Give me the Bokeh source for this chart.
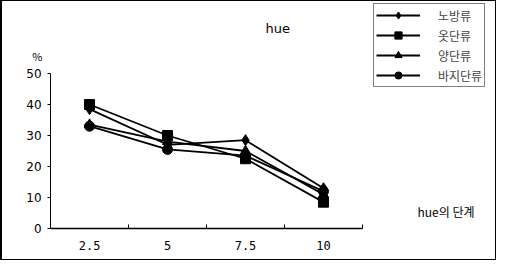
from bokeh.plotting import figure
from bokeh.models import (FixedTicker, Legend, LegendItem, Label, Range1d)
from bokeh.embed import file_html
from bokeh.resources import INLINE

# ---- data ----
hue_steps = [2.5, 5, 7.5, 10]
tick_labels = ["2.5", "5", "7.5", "10"]
y_ticks = [0, 10, 20, 30, 40, 50]
series_names = ["노방류", "옷단류", "양단류", "바지단류"]
nobang = [38.5, 27, 28.5, 13]
otdan = [40, 30, 22.5, 8.5]
yangdan = [33.5, 28, 25, 11]
baji = [33, 25.5, 23.5, 12]
markers = ["diamond", "square", "triangle", "circle"]

W, H = 496, 260
# frame covers the whole canvas; axes are pinned inside it
p = figure(width=W, height=H, output_backend="svg", toolbar_location=None,
           x_range=Range1d(-0.29, 15.61), y_range=Range1d(-10.65, 73.23),
           min_border=0)
p.styles = {"border": "1px solid black", "border-left": "2px solid black"}
p.outline_line_color = None
p.xgrid.visible = False
p.ygrid.visible = False
p.background_fill_color = "white"
p.border_fill_color = "white"

# x axis
p.xaxis.fixed_location = 0
p.xaxis.bounds = (1.25, 11.25)
p.xaxis.ticker = FixedTicker(ticks=hue_steps, minor_ticks=[3.75, 6.25, 8.75, 11.25])
p.xaxis.major_label_overrides = {v: t for v, t in zip(hue_steps, tick_labels)}
p.xaxis.major_tick_in = 0
p.xaxis.major_tick_out = 0
p.xaxis.minor_tick_in = 4
p.xaxis.minor_tick_out = 0
p.xaxis.axis_line_width = 1.5
p.xaxis.major_label_standoff = 13
p.xaxis.major_label_text_font = "DejaVu Sans Mono"
p.xaxis.major_label_text_font_size = "12px"
p.xaxis.major_label_text_color = "black"
p.xaxis.axis_line_color = "black"
p.xaxis.minor_tick_line_color = "black"

# y axis
p.yaxis.fixed_location = 1.25
p.yaxis.bounds = (0, 50)
p.yaxis.ticker = FixedTicker(ticks=y_ticks)
p.yaxis.major_tick_in = 0
p.yaxis.major_tick_out = 3
p.yaxis.minor_tick_line_color = None
p.yaxis.major_label_standoff = 6
p.yaxis.major_label_text_font = "DejaVu Sans"
p.yaxis.major_label_text_font_size = "12px"
p.yaxis.major_label_text_color = "black"
p.yaxis.axis_line_color = "black"
p.yaxis.major_tick_line_color = "black"

items = []
for name, vals, mk in zip(series_names, [nobang, otdan, yangdan, baji], markers):
    ln = p.line(hue_steps, vals, line_color="black", line_width=1.8)
    sz = 10 if mk != "diamond" else 11
    sc = p.scatter(hue_steps, vals, marker=mk, size=sz, fill_color="black",
                   line_color="black")
    items.append(LegendItem(label=name, renderers=[ln, sc]))

legend = Legend(items=items, location=(371, 174), orientation="vertical",
                label_text_font="Noto Sans CJK KR", label_text_font_size="12px",
                label_height=18, glyph_height=18, glyph_width=44, spacing=2,
                padding=2, margin=0, label_standoff=18,
                border_line_color="black", border_line_width=1.5,
                background_fill_color="white", background_fill_alpha=1)
p.add_layout(legend, "center")

p.add_layout(Label(x=8.53, y=64.5, text="hue", text_align="center",
                   text_baseline="middle", text_font="DejaVu Sans",
                   text_font_size="13px", text_color="black"))
p.add_layout(Label(x=0.83, y=55.8, text="%", text_align="center",
                   text_baseline="middle", text_font="Noto Sans CJK KR",
                   text_font_size="11px", text_color="black"))
p.add_layout(Label(x=13.97, y=5.5, text="hue의  단계", text_align="center",
                   text_baseline="middle", text_font="Noto Sans CJK KR",
                   text_font_size="12px", text_color="black"))

open("out.html", "w").write(file_html(p, INLINE))
